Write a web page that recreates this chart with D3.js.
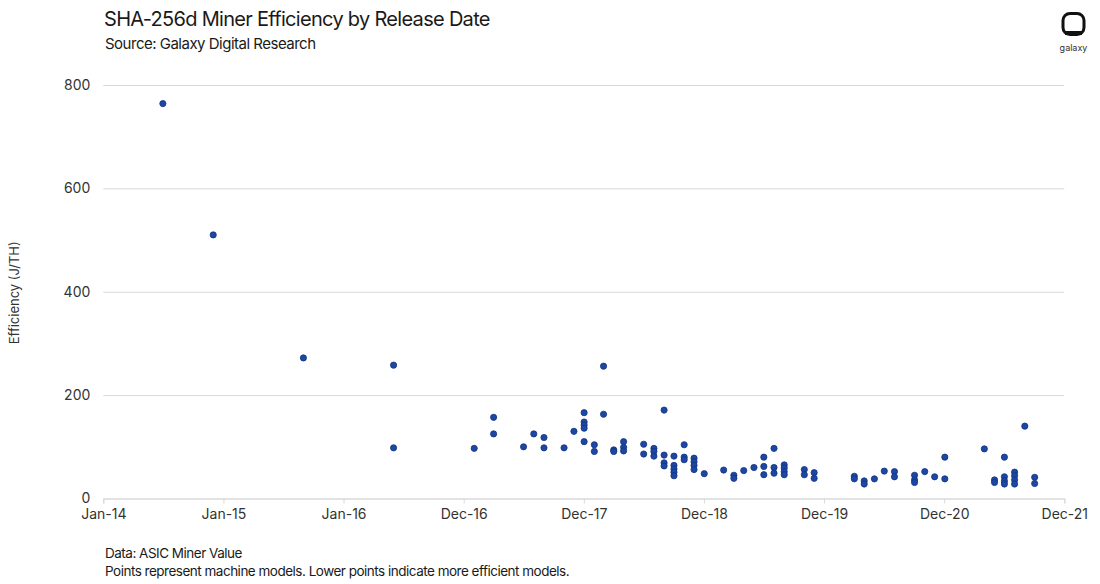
<!DOCTYPE html>
<html>
<head>
<meta charset="utf-8">
<script src="https://cdn.jsdelivr.net/npm/d3@7"></script>
<style>
  html, body { margin: 0; padding: 0; background: #ffffff; }
  svg { display: block; }
  text { font-family: "Inter", "Lato", sans-serif; }
</style>
</head>
<body>
<svg id="chart" width="1100" height="584"></svg>
<script>
// ---------------- DATA ----------------
const titleText = "SHA-256d Miner Efficiency by Release Date";
const subtitleText = "Source: Galaxy Digital Research";
const yAxisTitle = "Efficiency (J/TH)";
const footnotes = ["Data: ASIC Miner Value",
  "Points represent machine models. Lower points indicate more efficient models."];

// x ticks (Excel-style: every 365 days from 1 Jan 2014)
const xTickDates = ["2014-01-01","2015-01-01","2016-01-01","2016-12-31","2017-12-31",
  "2018-12-31","2019-12-31","2020-12-30","2021-12-30"];
const xTickLabels = ["Jan-14","Jan-15","Jan-16","Dec-16","Dec-17","Dec-18","Dec-19","Dec-20","Dec-21"];
const yTicks = [0, 200, 400, 600, 800];

// one entry per machine model
const releaseDates = [
  "2014-07","2014-12","2015-09","2016-06","2016-06",
  "2017-02","2017-04","2017-04","2017-07","2017-08","2017-09","2017-09","2017-11","2017-12",
  "2018-01","2018-01","2018-01","2018-01","2018-01",
  "2018-02","2018-02","2018-03","2018-03","2018-04","2018-04",
  "2018-05","2018-05","2018-05","2018-07","2018-07","2018-08","2018-08","2018-08",
  "2018-09","2018-09","2018-09","2018-09",
  "2018-10","2018-10","2018-10","2018-10","2018-10",
  "2018-11","2018-11","2018-11","2018-12","2018-12","2018-12","2018-12",
  "2019-01","2019-03","2019-04","2019-04","2019-05","2019-06",
  "2019-07","2019-07","2019-07","2019-08","2019-08","2019-08",
  "2019-09","2019-09","2019-09","2019-09","2019-11","2019-11","2019-12","2019-12",
  "2020-04","2020-04","2020-05","2020-05","2020-06","2020-07","2020-08","2020-08",
  "2020-10","2020-10","2020-10","2020-11","2020-12","2021-01","2021-01",
  "2021-05","2021-06","2021-06","2021-07","2021-07","2021-07","2021-07",
  "2021-08","2021-08","2021-08","2021-08","2021-09","2021-10","2021-10"
];
const efficiency = [
  764, 510, 272, 258, 98,
  97, 157, 125, 100, 125, 118, 98, 98, 130,
  166, 148, 142, 136, 110,
  104, 91, 256, 163, 94, 91,
  110, 99, 92, 105, 86, 97, 91, 82,
  171, 84, 69, 63,
  82, 64, 57, 51, 44,
  104, 80, 75, 78, 71, 64, 56,
  48, 55, 45, 39, 54, 60,
  80, 62, 46, 97, 60, 49,
  65, 59, 52, 46, 56, 46, 50, 39,
  43, 38, 34, 28, 38, 53, 52, 42,
  45, 36, 31, 52, 42, 80, 38,
  96, 36, 31, 80, 42, 34, 28,
  51, 44, 36, 28, 140, 41, 29
];

// ---------------- CHART ----------------
const svg = d3.select("#chart");
const parseDay = d3.utcParse("%Y-%m-%d");
const parseMonth = d3.utcParse("%Y-%m");

const plot = { left: 103.3, right: 1064.3, top: 85, bottom: 498.5 };

const x = d3.scaleUtc()
  .domain([parseDay(xTickDates[0]), parseDay(xTickDates[xTickDates.length - 1])])
  .range([plot.left, plot.right]);
const y = d3.scaleLinear().domain([0, 800]).range([plot.bottom, plot.top]);

// gridlines
const grid = svg.append("g")
  .attr("transform", `translate(${plot.left},0)`)
  .call(d3.axisLeft(y).tickValues(yTicks).tickSize(-(plot.right - plot.left)).tickFormat(""));
grid.select(".domain").remove();
grid.selectAll(".tick line").attr("stroke", "#d9d9d9").attr("stroke-width", 1);

// y tick labels
const yAxis = svg.append("g")
  .attr("transform", `translate(${plot.left},0)`)
  .call(d3.axisLeft(y).tickValues(yTicks).tickSize(0).tickPadding(13).tickFormat(d3.format("d")));
yAxis.select(".domain").remove();
yAxis.selectAll("text")
  .attr("font-size", 14).attr("fill", "#333333")
  .style("font-family", "Inter, Lato, sans-serif");

// x axis
const xAxis = svg.append("g")
  .attr("transform", `translate(0,${plot.bottom})`)
  .call(d3.axisBottom(x)
    .tickValues(xTickDates.map(parseDay))
    .tickSize(5).tickPadding(6)
    .tickFormat((d, i) => xTickLabels[i]));
xAxis.select(".domain").attr("stroke", "#d9d9d9");
xAxis.selectAll(".tick line").attr("stroke", "#d9d9d9");
xAxis.selectAll("text")
  .attr("font-size", 14).attr("fill", "#333333")
  .style("font-family", "Inter, Lato, sans-serif");

// points
svg.append("g").selectAll("circle")
  .data(releaseDates.map((d, i) => ({ date: parseMonth(d), v: efficiency[i] })))
  .join("circle")
  .attr("cx", d => x(d.date))
  .attr("cy", d => y(d.v))
  .attr("r", 3.1)
  .attr("fill", "#1d47a3")
  .attr("stroke", "#12337f")
  .attr("stroke-width", 0.8);

// y axis title
svg.append("text")
  .attr("transform", `translate(19,${(plot.top + plot.bottom) / 2 + 1}) rotate(-90)`)
  .attr("text-anchor", "middle")
  .attr("font-size", 13).attr("fill", "#333333")
  .text(yAxisTitle);

// titles
svg.append("text").attr("x", 104).attr("y", 26)
  .attr("font-size", 20).attr("fill", "#1a1a1a")
  .attr("letter-spacing", "-0.7px")
  .text(titleText);
svg.append("text").attr("x", 105).attr("y", 49)
  .attr("font-size", 15).attr("fill", "#1a1a1a")
  .attr("letter-spacing", "-0.5px")
  .text(subtitleText);

// footnotes
footnotes.forEach((t, i) => {
  svg.append("text").attr("x", 105).attr("y", 558 + i * 18)
    .attr("font-size", 13.5).attr("fill", "#1a1a1a")
    .attr("letter-spacing", "-0.5px")
    .text(t);
});

// galaxy logo
const logo = svg.append("g");
logo.append("rect").attr("x", 1063).attr("y", 13.5).attr("width", 21).attr("height", 21)
  .attr("rx", 7).attr("fill", "none").attr("stroke", "#111").attr("stroke-width", 3);
logo.append("rect").attr("x", 1065).attr("y", 31).attr("width", 17).attr("height", 4).attr("fill", "#111");
logo.append("text").attr("x", 1073.5).attr("y", 51)
  .attr("text-anchor", "middle").attr("font-size", 9).attr("fill", "#333")
  .text("galaxy");
</script>
</body>
</html>
